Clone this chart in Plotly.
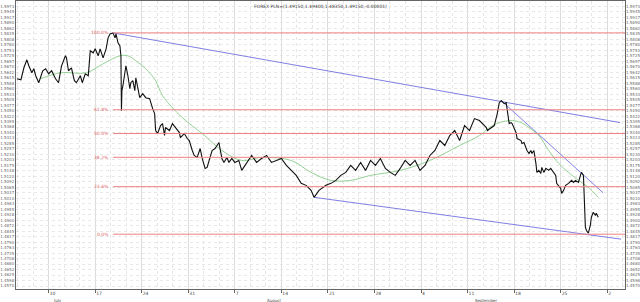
import plotly.graph_objects as go

# ---- data (days since 10 July; prices) ----
price_day = [-4.77,-4.17,-3.72,-3.28,-2.98,-2.53,-2.23,-1.94,-1.49,-1.19,-0.89,-0.45,0.00,0.45,1.04,1.49,1.94,2.53,2.68,2.98,
 3.43,3.87,4.17,4.77,5.06,5.51,5.96,6.26,6.70,7.00,7.45,7.74,8.19,8.64,8.94,9.23,9.68,9.98,10.13,10.43,
 10.72,10.87,10.95,11.02,11.17,11.47,11.62,11.92,12.21,12.36,12.66,12.96,13.11,13.40,13.70,14.15,14.60,15.19,15.34,15.64,
 15.94,16.09,16.38,16.83,17.13,17.43,17.57,18.17,18.62,19.06,19.66,19.81,20.40,20.85,21.15,21.60,21.89,22.34,22.79,23.09,
 23.53,23.83,24.28,24.58,25.02,25.62,25.77,26.06,26.36,26.81,27.11,27.55,28.00,28.60,29.04,29.79,30.53,31.28,32.02,32.77,
 33.51,34.26,35.00,35.75,36.49,37.24,37.98,38.72,39.47,39.92,40.66,41.70,42.45,43.19,43.94,44.68,45.43,46.17,46.92,47.66,
 48.41,49.15,49.89,50.64,51.38,52.13,52.87,53.62,54.36,55.11,55.85,56.60,57.34,58.09,58.83,59.58,60.32,61.07,61.81,62.55,
 63.30,64.04,64.79,65.24,65.83,65.98,66.58,67.02,67.47,67.77,68.07,68.51,68.81,68.96,69.26,69.55,69.70,70.30,70.45,71.04,
 71.19,71.49,71.94,72.24,72.53,72.68,72.98,73.28,73.43,73.72,74.02,74.17,74.47,74.77,75.21,75.51,75.96,76.26,76.40,77.00,
 77.15,77.45,77.75,78.19,78.64,78.94,79.24,79.68,79.98,80.13,80.43,80.58,80.65,80.72,80.87,81.17,81.47,81.62,81.91,82.21,
 82.36,82.66]
price = [1.5610,1.5605,1.5665,1.5705,1.5675,1.5640,1.5660,1.5625,1.5590,1.5620,1.5650,1.5660,1.5635,1.5650,1.5610,1.5590,1.5675,1.5725,1.5715,1.5650,
 1.5665,1.5600,1.5590,1.5625,1.5590,1.5635,1.5625,1.5750,1.5740,1.5760,1.5725,1.5760,1.5715,1.5760,1.5815,1.5835,1.5840,1.5815,1.5835,1.5790,
 1.5775,1.5725,1.5450,1.5550,1.5575,1.5640,1.5675,1.5625,1.5560,1.5590,1.5600,1.5550,1.5615,1.5565,1.5515,1.5535,1.5515,1.5510,1.5490,1.5460,
 1.5435,1.5350,1.5335,1.5375,1.5385,1.5325,1.5365,1.5350,1.5385,1.5365,1.5340,1.5315,1.5335,1.5310,1.5300,1.5250,1.5225,1.5215,1.5260,1.5210,
 1.5160,1.5165,1.5210,1.5250,1.5260,1.5290,1.5260,1.5210,1.5190,1.5215,1.5190,1.5210,1.5190,1.5200,1.5150,1.5185,1.5225,1.5190,1.5210,1.5225,
 1.5190,1.5200,1.5210,1.5175,1.5150,1.5125,1.5085,1.5075,1.5050,1.5015,1.5050,1.5075,1.5085,1.5100,1.5125,1.5140,1.5175,1.5150,1.5190,1.5150,
 1.5200,1.5175,1.5210,1.5160,1.5140,1.5125,1.5160,1.5200,1.5175,1.5200,1.5150,1.5175,1.5225,1.5250,1.5300,1.5275,1.5325,1.5350,1.5300,1.5375,
 1.5350,1.5410,1.5400,1.5385,1.5365,1.5350,1.5365,1.5375,1.5435,1.5490,1.5500,1.5485,1.5490,1.5450,1.5385,1.5390,1.5385,1.5340,1.5310,1.5300,
 1.5285,1.5290,1.5250,1.5235,1.5250,1.5235,1.5250,1.5185,1.5140,1.5150,1.5135,1.5165,1.5140,1.5160,1.5150,1.5160,1.5140,1.5125,1.5085,1.5060,
 1.5035,1.5050,1.5075,1.5085,1.5100,1.5090,1.5100,1.5090,1.5125,1.5140,1.5125,1.5000,1.4885,1.4865,1.4850,1.4835,1.4875,1.4915,1.4940,1.4925,
 1.4935,1.4915]

ma_day = [-1.19,1.79,5.66,8.19,10.72,11.92,13.11,14.60,16.09,17.13,20.11,23.09,26.06,29.04,32.02,36.49,39.47,42.45,45.43,48.41,
 52.87,57.34,61.81,64.79,66.28,67.77,69.70,71.04,72.24,73.72,75.21,76.70,78.19,79.68,81.17,82.66]
ma = [1.5610,1.5640,1.5640,1.5685,1.5725,1.5725,1.5700,1.5660,1.5600,1.5525,1.5415,1.5335,1.5250,1.5200,1.5215,1.5200,1.5140,1.5100,1.5100,1.5125,
 1.5150,1.5200,1.5275,1.5325,1.5365,1.5390,1.5400,1.5390,1.5365,1.5325,1.5250,1.5185,1.5140,1.5100,1.5065,1.5015]

fib_high, fib_low = 1.5840, 1.4830
fib_start_day = 9.68
fib_ratios = [1.0, 0.618, 0.5, 0.382, 0.236, 0.0]
fib_labels = ["100.0%", "61.8%", "50.0%", "38.2%", "23.6%", "0.0%"]

trend_upper_day = [9.68, 85.94];  trend_upper = [1.5840, 1.5390]
trend_mid_day = [68.07, 83.41];   trend_mid = [1.5500, 1.5037]
trend_lower_day = [39.92, 86.09]; trend_lower = [1.5015, 1.4805]

tick_days = [0, 7, 14, 21, 28, 35, 42, 49, 56, 63, 70, 77, 84]
tick_text = ["10", "17", "24", "31", "7", "14", "21", "28", "4", "11", "18", "25", "2"]
month_names = ["July", "August", "September"]
month_days = [0.3, 32.5, 63.8]

title_text = "FOREX PLN=(1.49150,1.49400,1.48350,1.49150,-0.00001)"

X_RANGE = [-4.91, 86.68]
Y_RANGE = [1.4555, 1.6000]

fig = go.Figure()

red = "#ee8080"
for r, lab in zip(fib_ratios, fib_labels):
    lvl = round(fib_low + r * (fib_high - fib_low), 5)
    fig.add_shape(type="line", x0=fib_start_day, x1=X_RANGE[1], y0=lvl, y1=lvl, xref="x", yref="y",
                  line=dict(color=red, width=1), layer="above")
    fig.add_annotation(x=fib_start_day - 0.25, y=lvl, text=lab, showarrow=False, xanchor="right",
                       yanchor="middle", font=dict(size=4.5, color="#e06060", family="DejaVu Sans"))

blue = "#7070e0"
for dx, dy in [(trend_upper_day, trend_upper), (trend_mid_day, trend_mid), (trend_lower_day, trend_lower)]:
    fig.add_trace(go.Scatter(x=dx, y=dy, mode="lines", line=dict(color=blue, width=0.9),
                             hoverinfo="skip", showlegend=False))

fig.add_trace(go.Scatter(x=ma_day, y=ma, mode="lines", line=dict(color="#88cc88", width=0.9, shape="spline"),
                         showlegend=False))
fig.add_trace(go.Scatter(x=price_day, y=price, mode="lines", line=dict(color="#111111", width=1.1),
                         showlegend=False))
# right-side price axis
fig.add_trace(go.Scatter(x=[X_RANGE[0]], y=[Y_RANGE[0]], yaxis="y2", mode="markers",
                         marker=dict(opacity=0), hoverinfo="skip", showlegend=False))

for name, d in zip(month_names, month_days):
    fig.add_annotation(x=d, y=0, yref="paper", yshift=-7, text=name, showarrow=False, xanchor="left",
                       yanchor="top", font=dict(size=4, color="#444", family="DejaVu Sans"))

fig.add_annotation(x=0.5, xref="paper", y=1, yref="paper", text=title_text, showarrow=False,
                   yanchor="top", yshift=-1, font=dict(size=4.5, color="#333", family="DejaVu Sans"))

tickfont = dict(size=4, color="#666", family="DejaVu Sans")
fig.update_layout(
    width=640, height=302,
    margin=dict(l=14, r=13, t=0, b=13),
    paper_bgcolor="white", plot_bgcolor="white",
    xaxis=dict(range=X_RANGE, tickvals=tick_days, ticktext=tick_text, ticks="outside", ticklen=3,
               tickcolor="#666", tickfont=dict(size=4.5, color="#444", family="DejaVu Sans"),
               ticklabelposition="outside right",
               showgrid=True, gridcolor="#dcdcdc", gridwidth=1,
               minor=dict(dtick=7/3, tick0=0, showgrid=True, gridcolor="#e6e6e6", griddash="dot"),
               showline=True, linecolor="#666", mirror=True, zeroline=False),
    yaxis=dict(range=Y_RANGE, tick0=1.6, dtick=0.00275, tickformat=".4f", tickfont=tickfont,
               showgrid=True, gridcolor="#e8e8e8", griddash="dot", ticks="",
               showline=True, linecolor="#666", mirror=True, zeroline=False),
    yaxis2=dict(range=Y_RANGE, overlaying="y", side="right", tick0=1.6, dtick=0.00275, tickformat=".4f",
                tickfont=tickfont, showgrid=False, zeroline=False, showline=False),
)

fig.write_html("out.html")
